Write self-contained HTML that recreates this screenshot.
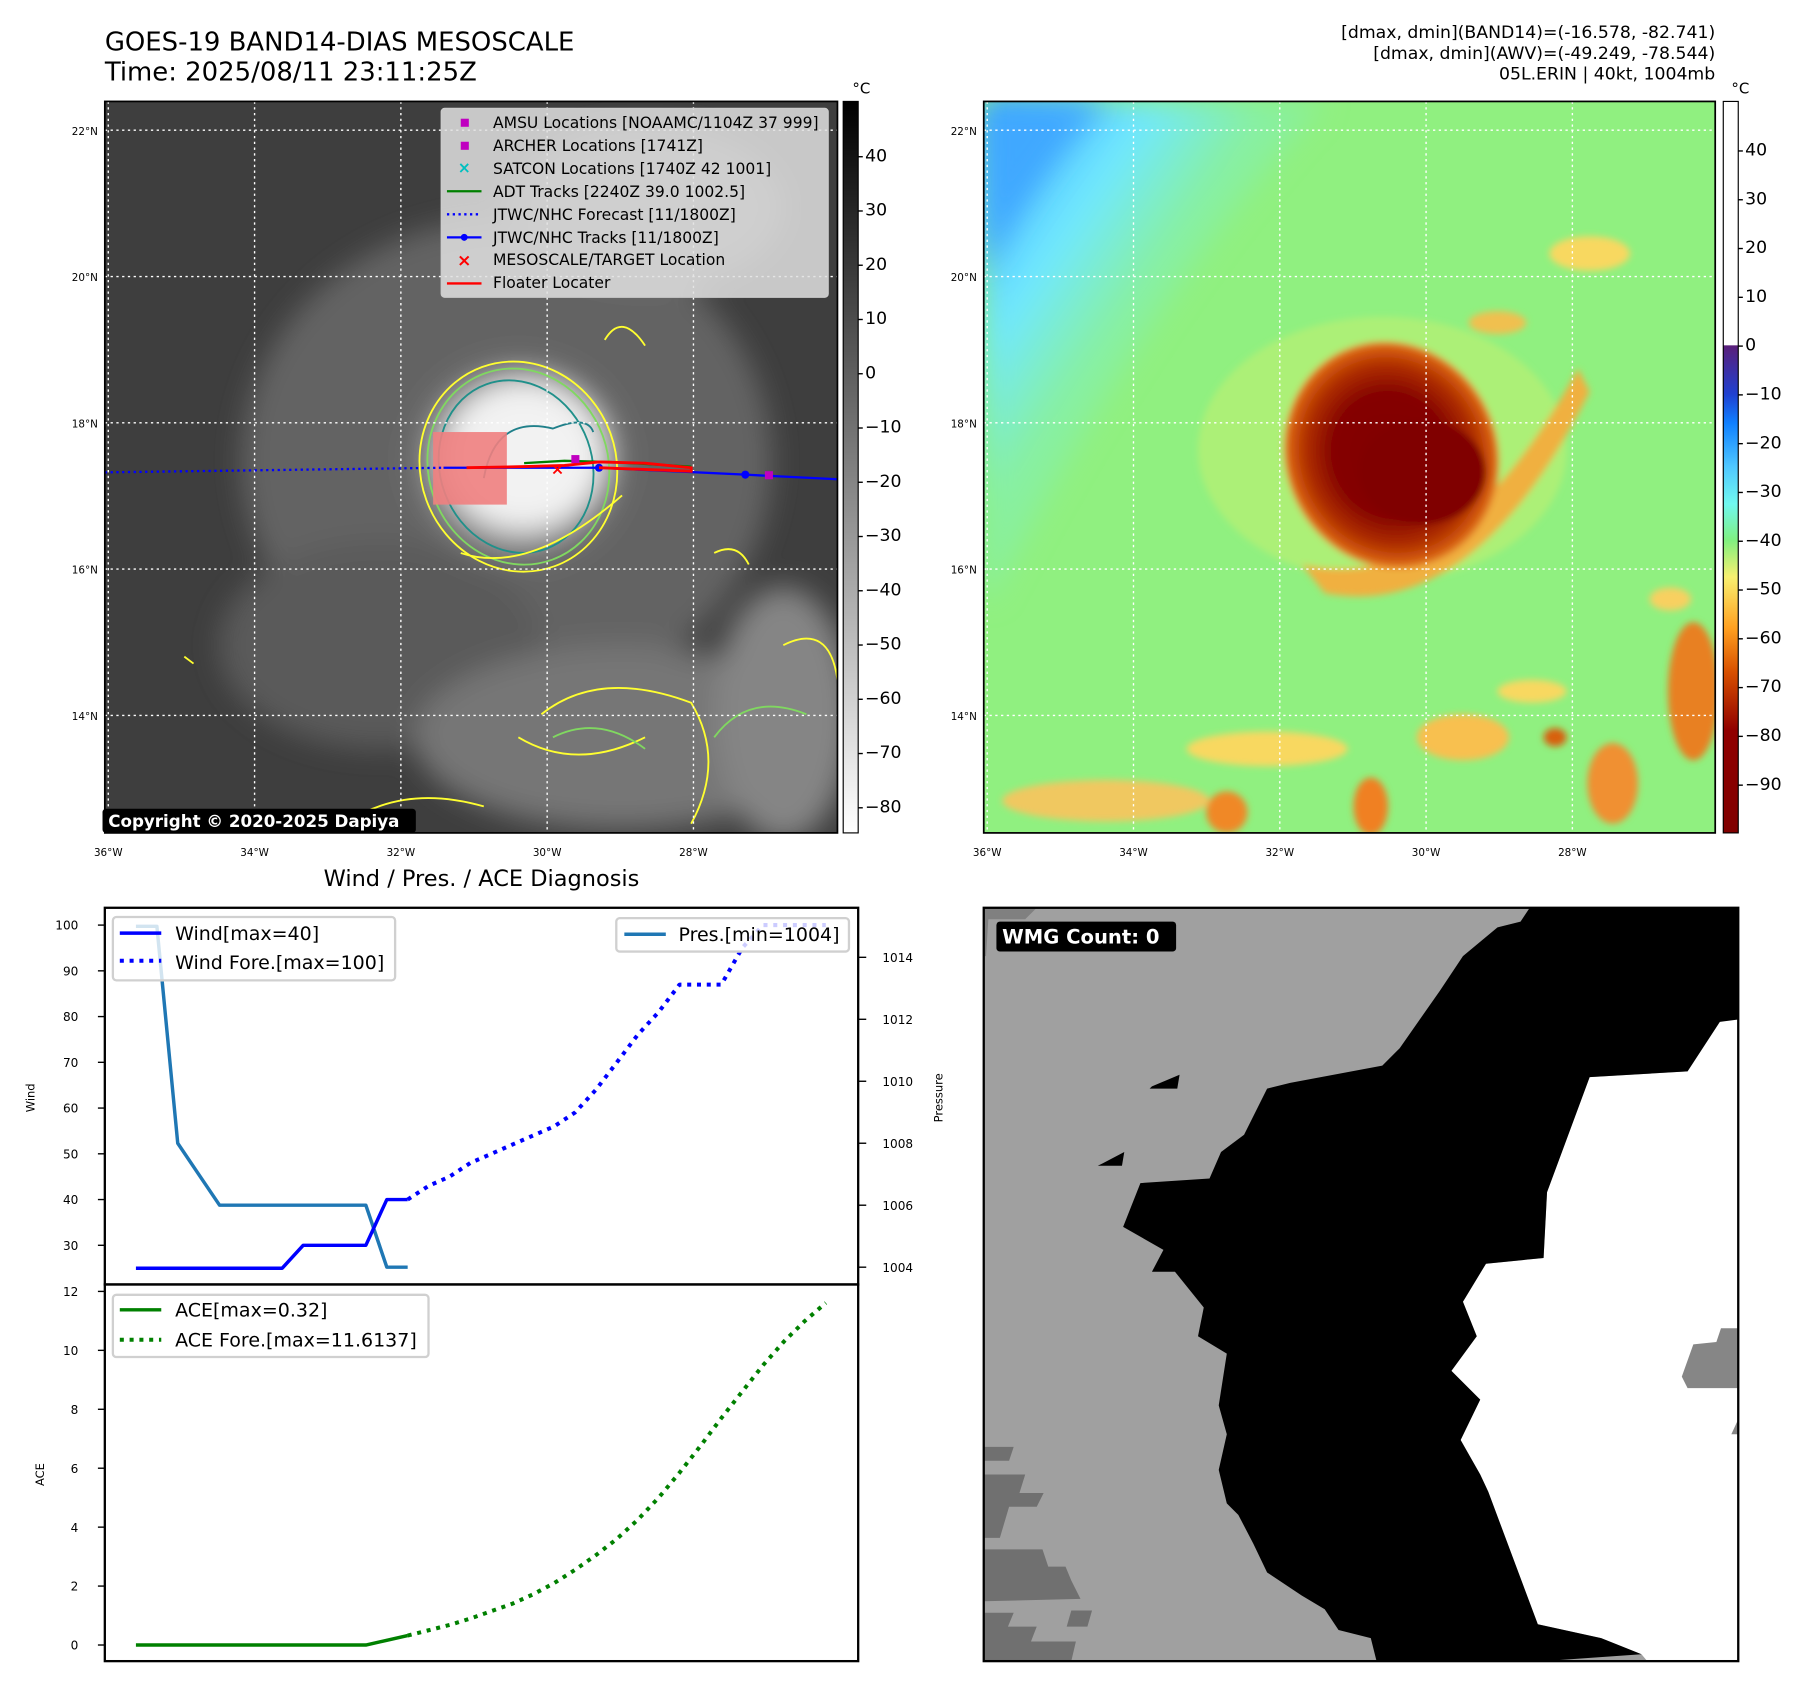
<!DOCTYPE html>
<html><head><meta charset="utf-8"><style>
html,body{margin:0;padding:0;background:#fff;}
svg{display:block;font-family:"DejaVu Sans","Liberation Sans",sans-serif;}
</style></head><body>
<svg id="root" width="1797" height="1690" viewBox="0 0 1560 1467" xmlns="http://www.w3.org/2000/svg">
<defs>
<linearGradient id="cb1" x1="0" y1="0" x2="0" y2="1"><stop offset="0" stop-color="#000"/><stop offset="1" stop-color="#fff"/></linearGradient>
<linearGradient id="cb2" x1="0" y1="0" x2="0" y2="1">
<stop offset="0" stop-color="#fff"/><stop offset="0.333" stop-color="#fff"/><stop offset="0.334" stop-color="#5a1f7a"/>
<stop offset="0.40" stop-color="#2040d0"/><stop offset="0.44" stop-color="#1080ff"/><stop offset="0.50" stop-color="#50c8ff"/>
<stop offset="0.55" stop-color="#70f8f0"/><stop offset="0.60" stop-color="#80f080"/><stop offset="0.65" stop-color="#f8f070"/>
<stop offset="0.72" stop-color="#ffa020"/><stop offset="0.78" stop-color="#d85000"/><stop offset="0.86" stop-color="#900000"/><stop offset="1" stop-color="#800000"/></linearGradient>
<radialGradient id="cloud" cx="0.5" cy="0.5" r="0.5"><stop offset="0" stop-color="#f0f0f0"/><stop offset="0.45" stop-color="#d8d8d8"/><stop offset="0.7" stop-color="#8a8a8a"/><stop offset="1" stop-color="#555" stop-opacity="0"/></radialGradient>
<radialGradient id="blob" cx="0.5" cy="0.5" r="0.5"><stop offset="0" stop-color="#800000"/><stop offset="0.55" stop-color="#850400"/><stop offset="0.8" stop-color="#b03000"/><stop offset="0.95" stop-color="#d86010"/><stop offset="1" stop-color="#e89030"/></radialGradient>
<linearGradient id="sky" x1="0" y1="0" x2="1" y2="1"><stop offset="0" stop-color="#3aa0ff"/><stop offset="0.25" stop-color="#70e8ff"/><stop offset="0.42" stop-color="#88f0a0"/><stop offset="1" stop-color="#90f080"/></linearGradient>
<filter id="bl" x="-20%" y="-20%" width="140%" height="140%"><feGaussianBlur stdDeviation="12"/></filter>
<filter id="bl2"><feGaussianBlur stdDeviation="3"/></filter>
<clipPath id="c1"><rect x="91" y="88" width="636" height="635"/></clipPath>
<clipPath id="c2"><rect x="854" y="88" width="635" height="635"/></clipPath>
</defs>

<text x="91" y="44" font-size="22.5">GOES-19 BAND14-DIAS MESOSCALE</text>
<text x="91" y="70" font-size="22.5">Time: 2025/08/11 23:11:25Z</text>
<g font-size="15" text-anchor="end">
<text x="1489" y="33">[dmax, dmin](BAND14)=(-16.578, -82.741)</text>
<text x="1489" y="51">[dmax, dmin](AWV)=(-49.249, -78.544)</text>
<text x="1489" y="69">05L.ERIN | 40kt, 1004mb</text>
</g>

<g clip-path="url(#c1)">
<rect x="91" y="88" width="636" height="635" fill="#3e3e3e"/>
<g filter="url(#bl)">
<ellipse cx="440" cy="400" rx="230" ry="210" fill="#646464"/>
<ellipse cx="330" cy="560" rx="140" ry="90" fill="#5a5a5a"/>
<ellipse cx="540" cy="640" rx="180" ry="80" fill="#767676"/>
<ellipse cx="680" cy="620" rx="60" ry="110" fill="#858585"/>
<ellipse cx="560" cy="180" rx="120" ry="70" fill="#6c6c6c"/>
<ellipse cx="450" cy="400" rx="110" ry="105" fill="url(#cloud)"/>
<ellipse cx="455" cy="395" rx="70" ry="65" fill="#f2f2f2"/>
</g>
<g fill="none" stroke-width="1.6">
<ellipse cx="450" cy="405" rx="85" ry="92" stroke="#ffff30" transform="rotate(-20 450 405)"/>
<ellipse cx="450" cy="405" rx="78" ry="86" stroke="#80d860" transform="rotate(-20 450 405)"/>
<ellipse cx="448" cy="405" rx="66" ry="76" stroke="#20908a" transform="rotate(-20 448 405)"/>
<path d="M420 415 Q430 360 480 372 Q510 360 515 375" stroke="#20808a"/>
<path d="M400 480 Q460 500 540 430" stroke="#ffff30"/>
<path d="M300 715 Q350 680 420 700 M470 620 Q520 580 600 610 Q630 660 600 715 M680 560 Q720 540 727 590 M620 480 Q640 470 650 490 M160 570 l8 6 M450 640 Q500 670 560 640" stroke="#ffff30"/>
<path d="M480 640 Q520 620 560 650 M620 640 Q650 600 700 620" stroke="#80d860"/>
<path d="M525 295 Q540 270 560 300" stroke="#ffff30"/>
</g>
</g>
<g stroke="#fff" stroke-width="1.2" stroke-dasharray="2,3">
<line x1="221" y1="88" x2="221" y2="723"/><line x1="348" y1="88" x2="348" y2="723"/><line x1="475" y1="88" x2="475" y2="723"/><line x1="602" y1="88" x2="602" y2="723"/><line x1="94" y1="88" x2="94" y2="723"/>
<line x1="91" y1="113" x2="727" y2="113"/><line x1="91" y1="240" x2="727" y2="240"/><line x1="91" y1="367" x2="727" y2="367"/><line x1="91" y1="494" x2="727" y2="494"/><line x1="91" y1="621" x2="727" y2="621"/>
</g>
<g clip-path="url(#c1)">
<rect x="376" y="375" width="64" height="63" fill="#f08080" opacity="0.9"/>
<path d="M91 410 L385 406" stroke="#0000ff" stroke-width="2" stroke-dasharray="2,3" fill="none"/>
<path d="M385 406 L520 406 L647 412 L727 416" stroke="#0000ff" stroke-width="2" fill="none"/>
<circle cx="520" cy="406" r="3.5" fill="#0000ff"/><circle cx="647" cy="412" r="3.5" fill="#0000ff"/>
<path d="M455 402 L490 400 L530 401 L600 405" stroke="#008000" stroke-width="2" fill="none"/>
<path d="M405 406 L455 405 L490 404 L520 401 L560 402 L600 406 L600 409 L520 406" stroke="#ff0000" stroke-width="2.5" fill="none"/>
<rect x="496" y="395" width="7" height="7" fill="#c000c0"/><rect x="664" y="409" width="7" height="7" fill="#c000c0"/>
<text x="484" y="412" font-size="14" fill="#ff0000" text-anchor="middle" font-weight="bold">×</text>
</g>
<rect x="91" y="88" width="636" height="635" fill="none" stroke="#000" stroke-width="1.5"/>
<g font-size="13.5">
<rect x="383" y="94" width="336" height="164" rx="3" fill="#e0e0e0" fill-opacity="0.85" stroke="#ccc"/>
<rect x="400" y="103" width="7" height="7" fill="#c000c0"/><text x="428" y="111">AMSU Locations [NOAAMC/1104Z 37 999]</text>
<rect x="400" y="123" width="7" height="7" fill="#c000c0"/><text x="428" y="131">ARCHER Locations [1741Z]</text>
<text x="403" y="150" fill="#00c0c0" text-anchor="middle" font-weight="bold">×</text><text x="428" y="151">SATCON Locations [1740Z 42 1001]</text>
<line x1="388" y1="166" x2="418" y2="166" stroke="#008000" stroke-width="2"/><text x="428" y="171">ADT Tracks [2240Z 39.0 1002.5]</text>
<line x1="388" y1="186" x2="418" y2="186" stroke="#0000ff" stroke-width="2" stroke-dasharray="2,3"/><text x="428" y="191">JTWC/NHC Forecast [11/1800Z]</text>
<line x1="388" y1="206" x2="418" y2="206" stroke="#0000ff" stroke-width="2"/><circle cx="403" cy="206" r="3" fill="#0000ff"/><text x="428" y="211">JTWC/NHC Tracks [11/1800Z]</text>
<text x="403" y="231" fill="#ff0000" text-anchor="middle" font-weight="bold" font-size="15">×</text><text x="428" y="230">MESOSCALE/TARGET Location</text>
<line x1="388" y1="246" x2="418" y2="246" stroke="#ff0000" stroke-width="2"/><text x="428" y="250">Floater Locater</text>
</g>
<rect x="89" y="702" width="272" height="21" rx="3" fill="#000"/>
<text x="94" y="718" font-size="14.5" font-weight="bold" fill="#fff">Copyright © 2020-2025 Dapiya</text>
<g font-size="9">
<text x="85" y="117" text-anchor="end">22°N</text><text x="85" y="244" text-anchor="end">20°N</text><text x="85" y="371" text-anchor="end">18°N</text><text x="85" y="498" text-anchor="end">16°N</text><text x="85" y="625" text-anchor="end">14°N</text>
<text x="94" y="743" text-anchor="middle">36°W</text><text x="221" y="743" text-anchor="middle">34°W</text><text x="348" y="743" text-anchor="middle">32°W</text><text x="475" y="743" text-anchor="middle">30°W</text><text x="602" y="743" text-anchor="middle">28°W</text>
</g>
<rect x="732" y="88" width="13" height="635" fill="url(#cb1)" stroke="#000" stroke-width="1"/>
<text x="740" y="81" font-size="13">°C</text>
<g id="cb1ticks"></g>

<g clip-path="url(#c2)">
<rect x="854" y="88" width="635" height="635" fill="#90f080"/>
<path d="M854 88 L1150 88 Q1000 250 860 520 L854 520 Z" fill="url(#sky)" filter="url(#bl)"/>
<path d="M854 88 L960 88 Q900 150 854 240 Z" fill="#40a8ff" filter="url(#bl)"/>
<g filter="url(#bl2)">
<ellipse cx="1200" cy="390" rx="160" ry="115" fill="#c0f070" opacity="0.6"/>
<path d="M1130 490 Q1260 520 1370 320 L1380 340 Q1280 540 1150 515 Z" fill="#f0b040"/>
<ellipse cx="1208" cy="395" rx="92" ry="100" fill="url(#blob)" transform="rotate(-25 1208 395)"/>
<ellipse cx="1235" cy="410" rx="55" ry="45" fill="#800000"/>
<ellipse cx="960" cy="695" rx="90" ry="18" fill="#f0c860"/>
<ellipse cx="1470" cy="600" rx="22" ry="60" fill="#e88020"/>
<ellipse cx="1400" cy="680" rx="22" ry="35" fill="#f09030"/>
<ellipse cx="1190" cy="700" rx="15" ry="25" fill="#f08020"/>
<ellipse cx="1270" cy="640" rx="40" ry="20" fill="#f8c050"/>
<ellipse cx="1100" cy="650" rx="70" ry="15" fill="#f8d860"/>
<ellipse cx="1350" cy="640" rx="10" ry="8" fill="#d86010"/>
<ellipse cx="1065" cy="705" rx="18" ry="18" fill="#f08828"/>
<ellipse cx="1380" cy="220" rx="35" ry="15" fill="#f8d860"/>
<ellipse cx="1300" cy="280" rx="25" ry="10" fill="#f0c050"/>
<ellipse cx="1330" cy="600" rx="30" ry="10" fill="#f8d860"/>
<ellipse cx="1450" cy="520" rx="18" ry="10" fill="#f8d060"/>
</g>
</g>
<g stroke="#fff" stroke-width="1.2" stroke-dasharray="2,3">
<line x1="984" y1="88" x2="984" y2="723"/><line x1="1111" y1="88" x2="1111" y2="723"/><line x1="1238" y1="88" x2="1238" y2="723"/><line x1="1365" y1="88" x2="1365" y2="723"/><line x1="857" y1="88" x2="857" y2="723"/>
<line x1="854" y1="113" x2="1489" y2="113"/><line x1="854" y1="240" x2="1489" y2="240"/><line x1="854" y1="367" x2="1489" y2="367"/><line x1="854" y1="494" x2="1489" y2="494"/><line x1="854" y1="621" x2="1489" y2="621"/>
</g>
<rect x="854" y="88" width="635" height="635" fill="none" stroke="#000" stroke-width="1.5"/>
<g font-size="9">
<text x="848" y="117" text-anchor="end">22°N</text><text x="848" y="244" text-anchor="end">20°N</text><text x="848" y="371" text-anchor="end">18°N</text><text x="848" y="498" text-anchor="end">16°N</text><text x="848" y="625" text-anchor="end">14°N</text>
<text x="857" y="743" text-anchor="middle">36°W</text><text x="984" y="743" text-anchor="middle">34°W</text><text x="1111" y="743" text-anchor="middle">32°W</text><text x="1238" y="743" text-anchor="middle">30°W</text><text x="1365" y="743" text-anchor="middle">28°W</text>
</g>
<rect x="1496" y="88" width="13" height="635" fill="url(#cb2)" stroke="#000" stroke-width="1"/>
<text x="1503" y="81" font-size="13">°C</text>
<g id="cb2ticks"></g>

<text x="418" y="769" font-size="19.5" text-anchor="middle">Wind / Pres. / ACE Diagnosis</text>
<g id="chart"></g>
<rect x="91" y="788" width="654" height="327" fill="none" stroke="#000" stroke-width="2"/>
<rect x="91" y="1115" width="654" height="327" fill="none" stroke="#000" stroke-width="2"/>
<text transform="translate(30 953) rotate(-90)" font-size="10" text-anchor="middle">Wind</text>
<text transform="translate(818 953) rotate(-90)" font-size="10" text-anchor="middle">Pressure</text>
<text transform="translate(38 1280) rotate(-90)" font-size="10" text-anchor="middle">ACE</text>
<g font-size="16.5">
<rect x="98" y="796" width="245" height="55" rx="3" fill="#fff" fill-opacity="0.8" stroke="#d0d0d0" stroke-width="2"/>
<line x1="104" y1="810" x2="140" y2="810" stroke="#0000ff" stroke-width="3"/><text x="152" y="816">Wind[max=40]</text>
<line x1="104" y1="834" x2="140" y2="834" stroke="#0000ff" stroke-width="3.5" stroke-dasharray="3.5,5"/><text x="152" y="841">Wind Fore.[max=100]</text>
</g>
<g font-size="16.5">
<rect x="535" y="797" width="202" height="29" rx="3" fill="#fff" fill-opacity="0.8" stroke="#d0d0d0" stroke-width="2"/>
<line x1="542" y1="811" x2="578" y2="811" stroke="#1f77b4" stroke-width="3"/><text x="589" y="817">Pres.[min=1004]</text>
</g>
<g font-size="16.5">
<rect x="98" y="1124" width="274" height="54" rx="3" fill="#fff" fill-opacity="0.8" stroke="#d0d0d0" stroke-width="2"/>
<line x1="104" y1="1137" x2="140" y2="1137" stroke="#008000" stroke-width="3"/><text x="152" y="1143">ACE[max=0.32]</text>
<line x1="104" y1="1163" x2="140" y2="1163" stroke="#008000" stroke-width="3.5" stroke-dasharray="3.5,5"/><text x="152" y="1169">ACE Fore.[max=11.6137]</text>
</g>

<g>
<rect x="854" y="788" width="655" height="654" fill="#a0a0a0"/>
<polygon points="1493,887 1509,880 1509,1442 1430,1442 1425,1436 1390,1422 1335,1410 1292,1295 1285,1280 1268,1250 1285,1215 1260,1190 1282,1160 1270,1130 1290,1097 1340,1092 1343,1035 1380,935 1465,930" fill="#fff"/>
<polygon points="1328,788 1509,788 1509,885 1493,887 1465,930 1380,935 1343,1035 1340,1092 1290,1097 1270,1130 1282,1160 1260,1190 1285,1215 1268,1250 1285,1280 1292,1295 1335,1410 1390,1422 1425,1436 1340,1442 1195,1442 1190,1422 1162,1415 1150,1397 1130,1385 1100,1365 1088,1340 1075,1315 1065,1305 1058,1276 1065,1245 1058,1220 1065,1175 1040,1160 1045,1135 1020,1104 1000,1104 1010,1085 975,1065 990,1027 1050,1023 1060,1000 1080,985 1100,945 1120,940 1200,925 1215,910 1250,860 1270,830 1300,805 1320,800" fill="#000"/>
<polygon points="1000,943 1024,933 1022,945 998,945" fill="#000"/>
<polygon points="957,1010 976,1000 974,1012 953,1012" fill="#000"/>
<polygon points="1460,1195 1470,1167 1490,1165 1494,1153 1509,1153 1509,1205 1465,1205" fill="#868686"/>
<polygon points="1503,1245 1509,1232 1509,1245" fill="#868686"/>
<polygon points="854,1256 880,1256 876,1268 854,1268" fill="#707070"/>
<polygon points="854,1280 890,1280 885,1296 906,1296 900,1308 876,1308 868,1335 854,1335" fill="#707070"/>
<polygon points="854,1345 905,1345 910,1360 925,1360 930,1372 938,1388 854,1390" fill="#707070"/>
<polygon points="854,1400 880,1400 875,1412 900,1412 895,1425 934,1425 930,1442 854,1442" fill="#707070"/>
<polygon points="930,1398 948,1398 944,1412 926,1412" fill="#707070"/>
<polygon points="854,788 900,788 890,798 858,798 856,830 854,830" fill="#808080"/>
<rect x="854" y="788" width="655" height="654" fill="none" stroke="#000" stroke-width="2"/>
<rect x="865" y="800" width="156" height="26" rx="3" fill="#000"/>
<text x="870" y="819" font-size="17" font-weight="bold" fill="#fff">WMG Count: 0</text>
</g>
</svg>
<script>
const obsIdx = [0,1,2,3,4,5,6,7,8,9,10,11,12,13];
const windObs = [25,25,25,25,25,25,25,25,30,30,30,30,40,40];
const presObs = [1015,1015,1008,1007,1006,1006,1006,1006,1006,1006,1006,1006,1004,1004];
const aceObs = [0,0,0,0,0,0,0,0,0,0,0,0,0.16,0.32];
const foreIdx = [13,14,15,16,17,18,19,20,21,22,23,24,25,26,27,28,29,30,31,32,33];
const windFore = [40,43,45,48,50,52,54,56,59,64,70,76,81,87,87,87,95,100,100,100,100];
const aceFore = [0.32,0.5,0.68,0.9,1.15,1.4,1.72,2.1,2.55,3.05,3.6,4.25,5.0,5.85,6.75,7.7,8.6,9.5,10.3,11.0,11.61];
const windTicks = [30,40,50,60,70,80,90,100];
const presTicks = [1004,1006,1008,1010,1012,1014];
const aceTicks = [0,2,4,6,8,10,12];
const cb1Ticks = [40,30,20,10,0,-10,-20,-30,-40,-50,-60,-70,-80];
const cb2Ticks = [40,30,20,10,0,-10,-20,-30,-40,-50,-60,-70,-80,-90];

const NS='http://www.w3.org/2000/svg';
const xS = i => 118 + i*18.15;
const yW = v => 1081 - (v-30)*3.971;
const yP = v => 1100 - (v-1004)*26.9;
const yA = v => 1428 - v*25.58;
const cb1Y = v => 136 + (40-v)*4.71;
const cb2Y = v => 131 + (40-v)*4.235;
const chart = document.getElementById('chart');
function mk(tag, attrs, parent){const e=document.createElementNS(NS,tag);for(const k in attrs)e.setAttribute(k,attrs[k]);(parent||chart).appendChild(e);return e;}
function line(idx, vals, ys, stroke, dash, name){
  const d = idx.map((t,i)=>(i?'L':'M')+xS(t).toFixed(1)+' '+ys(vals[i]).toFixed(1)).join(' ');
  const p = mk('path',{d:d,fill:'none',stroke:stroke,'stroke-width':dash?3.5:3,'stroke-dasharray':dash||'none','stroke-linejoin':'round'});
  
  
}
line(obsIdx, presObs, yP, '#1f77b4', null, 'pressure-line');
line(obsIdx, windObs, yW, '#0000ff', null, 'wind-line');
line(foreIdx, windFore, yW, '#0000ff', '3.5,5', 'wind-forecast-line');
line(obsIdx, aceObs, yA, '#008000', null, 'ace-line');
line(foreIdx, aceFore, yA, '#008000', '3.5,5', 'ace-forecast-line');
function tick(x1,y,x2,lx,anchor,label,fs,parent,name){
  mk('line',{x1:x1,y1:y,x2:x2,y2:y,stroke:'#000','stroke-width':1.2},parent);
  const t = mk('text',{x:lx,y:y+4,'font-size':fs,'text-anchor':anchor},parent);
  t.textContent = label;
  
  
}
windTicks.forEach(v=>tick(85,yW(v),91,68,'end',v,10.5,chart,'wind-tick-label'));
presTicks.forEach(v=>tick(745,yP(v),752,766,'start',v,10.5,chart,'pressure-tick-label'));
aceTicks.forEach(v=>tick(85,yA(v),91,68,'end',v,10.5,chart,'ace-tick-label'));
const g1=document.getElementById('cb1ticks'), g2=document.getElementById('cb2ticks');
cb1Ticks.forEach(v=>tick(745,cb1Y(v),749,751,'start',v<0?'\u2212'+(-v):v,15,g1,'colorbar-ir-tick'));
cb2Ticks.forEach(v=>tick(1509,cb2Y(v),1513,1515,'start',v<0?'\u2212'+(-v):v,15,g2,'colorbar-wv-tick'));
</script>
</body></html>
